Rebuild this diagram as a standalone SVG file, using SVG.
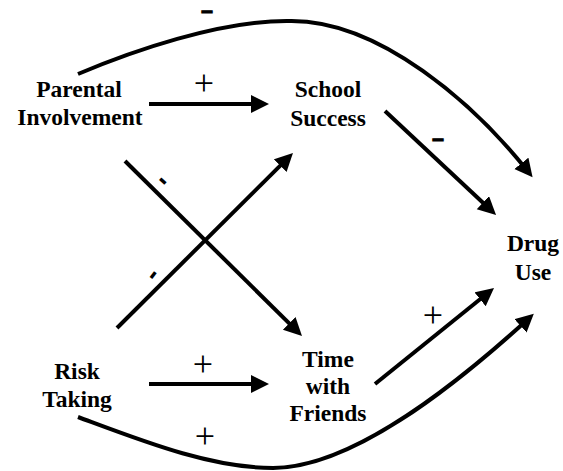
<svg xmlns="http://www.w3.org/2000/svg" width="563" height="471" viewBox="0 0 563 471">
  <defs>
    <marker id="head" markerUnits="userSpaceOnUse" markerWidth="20" markerHeight="20" refX="10" refY="9" orient="auto">
      <path d="M0,0 L18,9 L0,18 z" fill="#000"/>
    </marker>
    <style>
      .node { font-weight: bold; font-size: 23.5px; fill: #000; text-anchor: middle; }
      .plus { font-size: 36px; fill: #000; text-anchor: middle; }
      .minus { font-weight: bold; fill: #000; text-anchor: middle; }
      .bigminus { font-weight: bold; font-size: 18px; fill: #000; stroke: #000; stroke-width: 1.2; text-anchor: middle; }
      .edge { fill: none; stroke: #000; stroke-width: 4; marker-end: url(#head); }
    </style>
  </defs>

  <rect x="0" y="0" width="563" height="471" fill="#fff"/>

  <!-- causal links -->
  <g id="connectors">
    <path class="edge" d="M149,104 L261,104"/>
    <path class="edge" d="M149,384 L261,384"/>
    <path class="edge" d="M125,161 L296.3,330.4"/>
    <path class="edge" d="M117,328 L287.3,158.6"/>
    <path class="edge" d="M385,111 L490.2,209.5"/>
    <path class="edge" d="M375,384 L487.8,293"/>
    <path class="edge" d="M78,74 C130,52 220,20 290,21 C380,20 475,105 527.6,171.1"/>
    <path class="edge" d="M78,417 C140,440 210,468 273,468 C350,468 450,390 527.9,319.2"/>
  </g>

  <!-- link polarity -->
  <g id="signs" font-family="Liberation Serif, Times New Roman, serif">
    <text class="plus" x="204" y="95">+</text>
    <text class="plus" x="203" y="376">+</text>
    <text class="plus" x="205" y="448">+</text>
    <text class="plus" x="433" y="327">+</text>
  </g>
  <g id="minus-signs" font-family="Liberation Sans, Arial, sans-serif">
    <text class="bigminus" transform="translate(207,17) scale(2,1)">-</text>
    <text class="bigminus" transform="translate(438,145) scale(2,1)">-</text>
    <text class="minus" font-size="28" transform="translate(163,181) rotate(42)" y="7.4">-</text>
    <text class="minus" font-size="28" transform="translate(153,275) rotate(-52)" y="7.4">-</text>
  </g>

  <g id="parental-involvement" font-family="Liberation Serif, Times New Roman, serif">
    <text class="node" x="79" y="97">Parental</text>
    <text class="node" x="80" y="125">Involvement</text>
  </g>
  <g id="school-success" font-family="Liberation Serif, Times New Roman, serif">
    <text class="node" x="328" y="97">School</text>
    <text class="node" x="328" y="126">Success</text>
  </g>
  <g id="drug-use" font-family="Liberation Serif, Times New Roman, serif">
    <text class="node" x="533" y="251">Drug</text>
    <text class="node" x="533" y="280">Use</text>
  </g>
  <g id="risk-taking" font-family="Liberation Serif, Times New Roman, serif">
    <text class="node" x="77" y="379">Risk</text>
    <text class="node" x="77" y="407">Taking</text>
  </g>
  <g id="time-with-friends" font-family="Liberation Serif, Times New Roman, serif">
    <text class="node" x="328" y="367">Time</text>
    <text class="node" x="328" y="394">with</text>
    <text class="node" x="328" y="421">Friends</text>
  </g>
</svg>
